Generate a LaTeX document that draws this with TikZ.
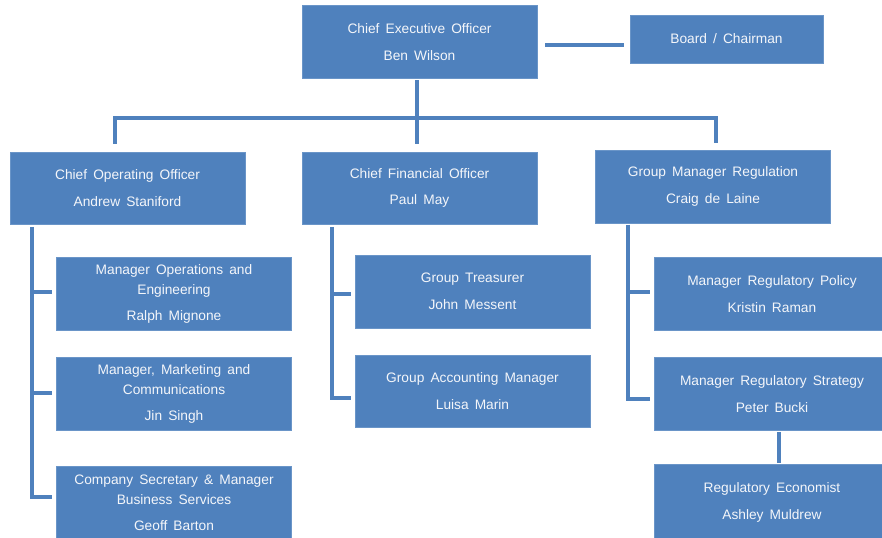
\documentclass[tikz,border=0pt]{standalone}
\usepackage{fontspec}
\setmainfont{Liberation Sans}[WordSpace=1.6]
\definecolor{boxblue}{HTML}{4F81BD}
\definecolor{boxedge}{HTML}{6A95C8}
\definecolor{boxtext}{HTML}{F4F6FA}
\begin{document}
\begin{tikzpicture}[x=0.75pt,y=-0.75pt,
  orgbox/.style={rectangle, fill=boxblue, draw=boxedge, line width=0.4pt,
    minimum width=176pt, minimum height=55pt, inner sep=0pt, align=center,
    text=boxtext, font=\fontsize{10.3}{15}\selectfont},
  conn/.style={draw=boxblue, line width=3pt, line join=miter}]
\useasboundingbox (0,0) rectangle (882,537);

% top level
\node[orgbox] (ceo) at (419.5,42) {Chief Executive Officer\\[5pt]Ben Wilson};
\node[orgbox, minimum width=144.75pt, minimum height=36pt] (board) at (726.5,39) {Board / Chairman};

% second level
\node[orgbox, minimum height=54pt] (coo) at (127.5,188) {Chief Operating Officer\\[5pt]Andrew Staniford};
\node[orgbox, minimum height=54pt] (cfo) at (419.5,188) {Chief Financial Officer\\[5pt]Paul May};
\node[orgbox, minimum height=54.75pt] (gmr) at (713,186.5) {Group Manager Regulation\\[5pt]Craig de Laine};

% operations branch
\node[orgbox] (ops) at (174,294) {Manager Operations and\\Engineering\\[4.5pt]Ralph Mignone};
\node[orgbox] (mkt) at (174,394) {Manager, Marketing and\\Communications\\[4.5pt]Jin Singh};
\node[orgbox] (sec) at (174,503) {Company Secretary \& Manager\\Business Services\\[4.5pt]Geoff Barton};

% finance branch
\node[orgbox, minimum height=54.75pt] (tre) at (472.5,291.5) {Group Treasurer\\[5pt]John Messent};
\node[orgbox, minimum height=54pt] (acc) at (472.5,391) {Group Accounting Manager\\[5pt]Luisa Marin};

% regulation branch (runs off the right edge)
\node[orgbox] (pol) at (772,294) {Manager Regulatory Policy\\[5pt]Kristin Raman};
\node[orgbox] (str) at (772,394) {Manager Regulatory Strategy\\[5pt]Peter Bucki};
\node[orgbox, minimum height=57pt] (eco) at (772,502.5) {Regulatory Economist\\[5pt]Ashley Muldrew};

% junction points
\coordinate (busL) at (113,118);
\coordinate (busR) at (718,118);
\coordinate (dropL) at (115,118);
\coordinate (dropM) at (417,118);
\coordinate (dropR) at (716,118);

% CEO links
\draw[conn, shorten <=6pt, shorten >=4pt] ([yshift=-2.25pt]ceo.east) -- ([yshift=-2.25pt]ceo.east -| board.west);
\draw[conn] (busL) -- (busR);
\draw[conn, shorten <=1pt] (ceo.south -| dropM) -- (dropM);
\draw[conn, shorten >=6pt] (dropL) -- (dropL |- coo.north);
\draw[conn, shorten >=6pt] (dropM) -- (dropM |- cfo.north);
\draw[conn, shorten >=5pt] (dropR) -- (dropR |- gmr.north);

% operations spine
\coordinate (o1) at (32,292);
\coordinate (o2) at (32,393);
\coordinate (o3) at (32,497);
\draw[conn, shorten <=2pt] (coo.south -| o1) -- (o3) -- ([xshift=-3pt]o3 -| sec.west);
\draw[conn, shorten >=3pt] (o1) -- (o1 -| ops.west);
\draw[conn, shorten >=3pt] (o2) -- (o2 -| mkt.west);

% finance spine
\coordinate (f1) at (332,294);
\coordinate (f2) at (332,398);
\draw[conn, shorten <=2pt] (cfo.south -| f1) -- (f2) -- ([xshift=-3pt]f2 -| acc.west);
\draw[conn, shorten >=3pt] (f1) -- (f1 -| tre.west);

% regulation spine
\coordinate (r1) at (628,292);
\coordinate (r2) at (628,399);
\draw[conn, shorten <=1pt] (gmr.south -| r1) -- (r2) -- ([xshift=-3.5pt]r2 -| str.west);
\draw[conn, shorten >=3.5pt] (r1) -- (r1 -| pol.west);
\draw[conn, shorten <=1pt, shorten >=1pt] ([xshift=5.25pt]str.south) -- ([xshift=5.25pt]eco.north);
\end{tikzpicture}
\end{document}
